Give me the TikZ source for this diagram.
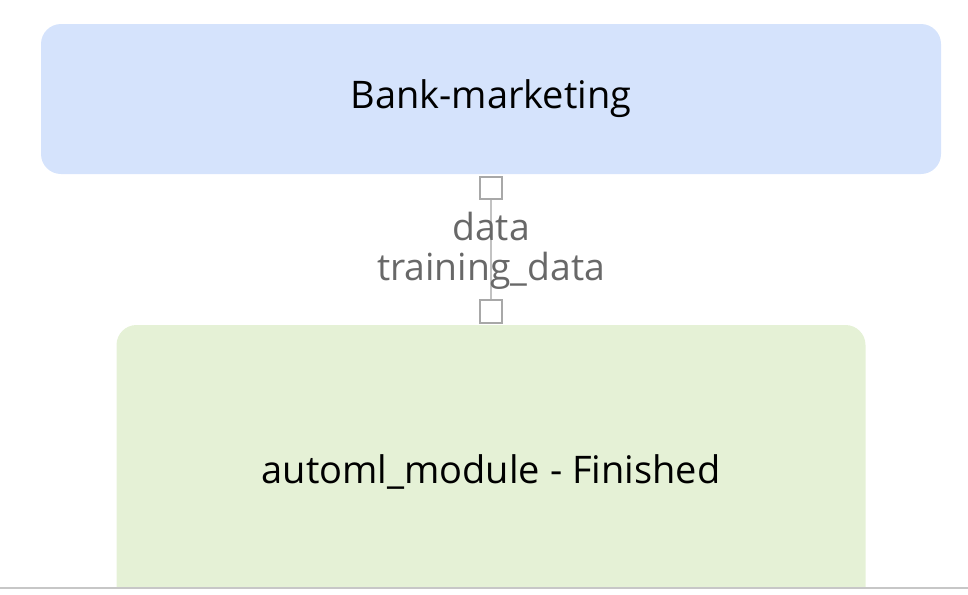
\documentclass[tikz,border=0pt]{standalone}
\usepackage{fontspec}
\setmainfont{Open Sans}
\definecolor{dsblue}{HTML}{D5E3FC}
\definecolor{dsgreen}{HTML}{E5F1D6}
\definecolor{portgray}{HTML}{A8A8A8}
\definecolor{labelgray}{HTML}{686868}

\begin{document}
\begin{tikzpicture}[x=0.75pt, y=-0.75pt,
    module/.style={rounded corners=15pt, inner sep=0pt, font=\fontsize{28.5}{34}\selectfont},
    port/.style={draw=portgray, line width=1.4pt, fill=white, minimum size=17pt, inner sep=0pt},
    portlabel/.style={text=labelgray, font=\fontsize{28}{34}\selectfont, inner sep=0pt}]
  \useasboundingbox (0,0) rectangle (968,594);
  \begin{scope}
    \clip (0,0) rectangle (968,587);
    \path node (bank) at (491,99) [module, fill=dsblue, minimum width=675pt, minimum height=112.5pt] {Bank-marketing}
          node (automl) at (491,472) [module, fill=dsgreen, minimum width=561.75pt, minimum height=220.5pt] {automl\_module - Finished};
  \end{scope}
  \path node (outport) at (491,188) [port] {}
        node (inport) at (491,311.5) [port] {};
  \draw[portgray!70, line width=1.4pt] (outport) -- (inport);
  \path node (outlabel) at (491,226) [portlabel] {data}
        node (inlabel) at (491,271) [portlabel] {training\_data};
  \draw[black!22, line width=1.5pt] (0,588) -- (968,588);
\end{tikzpicture}
\end{document}
